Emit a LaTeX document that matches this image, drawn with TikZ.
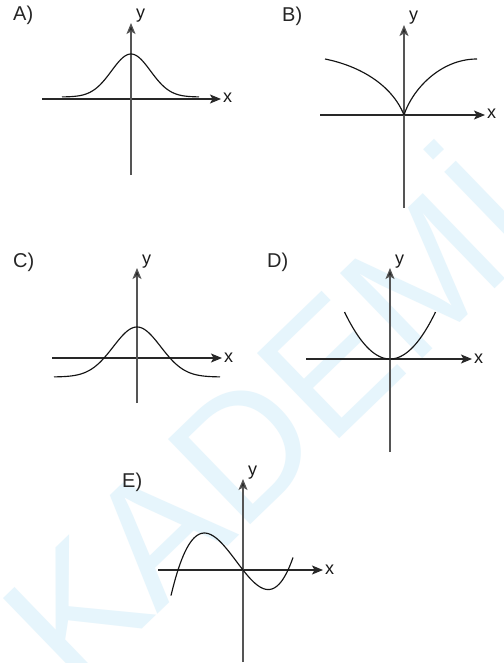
\documentclass[tikz,border=0pt]{standalone}
\usepackage{fontspec}
\setmainfont{Liberation Sans}
\usetikzlibrary{arrows.meta}
\definecolor{wmcol}{RGB}{230,245,252}
\definecolor{xax}{RGB}{40,40,40}
\definecolor{yax}{RGB}{85,85,85}
\definecolor{crv}{RGB}{20,20,20}
\tikzset{
 tipstyle/.style={-{Stealth[length=11pt,width=9pt,inset=2.5pt,fill=xax]}},
 axisx/.style={draw=xax, line width=1.2pt, tipstyle},
 axisy/.style={draw=yax, line width=1.2pt, tipstyle},
 curve/.style={draw=crv, line width=1.15pt, line join=round},
 lbl/.style={anchor=base west, inner sep=0pt, font=\fontsize{20}{24}\selectfont, text=black!85},
 axl/.style={anchor=base west, inner sep=0pt, font=\fontsize{18}{20}\selectfont, text=black!90},
 wmk/.style={anchor=base west, inner sep=0pt, text=wmcol, font=\fontsize{172}{172}\selectfont},
}
\begin{document}
\begin{tikzpicture}[x=1pt,y=-1pt]
\useasboundingbox (0,0) rectangle (503,663);
\fill[white] (0,0) rectangle (503,663);
% watermark
\begin{scope}
\clip (0,0) rectangle (503,663);
\node[wmk, rotate=44] (wm) at (75,694) {KADEMİ};
\end{scope}
% ---------- A ----------
\coordinate (Axl) at (42,99); \coordinate (Axr) at (221,99);
\coordinate (Ayb) at (131,175); \coordinate (Ayt) at (131,23);
\draw[axisx] (Axl) -- (Axr);
\draw[axisy] (Ayb) -- (Ayt);
\node[lbl] (Alab) at (13,21) {A)};
\node[axl] (Ay) at (136,19) {y};
\node[axl] (Ax) at (223,103) {x};
\draw[curve] plot[domain=-69:68,samples=90] ({131+\x},{97-43*exp(-(\x/19.5)^2/2)});
% ---------- B ----------
\coordinate (Bxl) at (320,115); \coordinate (Bxr) at (485,115);
\coordinate (Byb) at (404,208); \coordinate (Byt) at (404,25);
\draw[axisx] (Bxl) -- (Bxr);
\draw[axisy] (Byb) -- (Byt);
\node[lbl] (Blab) at (282,22) {B)};
\node[axl] (By) at (409,21) {y};
\node[axl] (Bx) at (487,119) {x};
\draw[curve] (325,59) .. controls (360,66) and (392,85) .. (404,115)
  .. controls (412,90) and (440,59) .. (477,59);
% ---------- C ----------
\coordinate (Cxl) at (52,358); \coordinate (Cxr) at (222,358);
\coordinate (Cyb) at (137,403); \coordinate (Cyt) at (137,268);
\draw[axisx] (Cxl) -- (Cxr);
\draw[axisy] (Cyb) -- (Cyt);
\node[lbl] (Clab) at (13,267) {C)};
\node[axl] (Cy) at (142,264) {y};
\node[axl] (Cx) at (224,362) {x};
\draw[curve] plot[domain=-83:83,samples=100] ({137+\x},{377-50*exp(-(\x/23.7)^2/2)});
% ---------- D ----------
\coordinate (Dxl) at (306,359); \coordinate (Dxr) at (472,359);
\coordinate (Dyb) at (390,452); \coordinate (Dyt) at (390,268);
\draw[axisx] (Dxl) -- (Dxr);
\draw[axisy] (Dyb) -- (Dyt);
\node[lbl] (Dlab) at (267,267) {D)};
\node[axl] (Dy) at (395,264) {y};
\node[axl] (Dx) at (474,363) {x};
\draw[curve] plot[domain=-45.5:45.5,samples=60] ({390+\x},{359-47*(\x/45.5)^2});
% ---------- E ----------
\coordinate (Exl) at (158,570); \coordinate (Exr) at (323,570);
\coordinate (Eyb) at (243,662); \coordinate (Eyt) at (243,479);
\draw[axisx] (Exl) -- (Exr);
\draw[axisy] (Eyb) -- (Eyt);
\node[lbl] (Elab) at (122,487) {E)};
\node[axl] (Ey) at (248,475) {y};
\node[axl] (Ex) at (325,574) {x};
\draw[curve] plot[domain=-7.2:5.0,samples=80] ({243+10*\x},{570-0.434*\x*(\x+6.5)*(\x-4.5)});
\end{tikzpicture}
\end{document}
